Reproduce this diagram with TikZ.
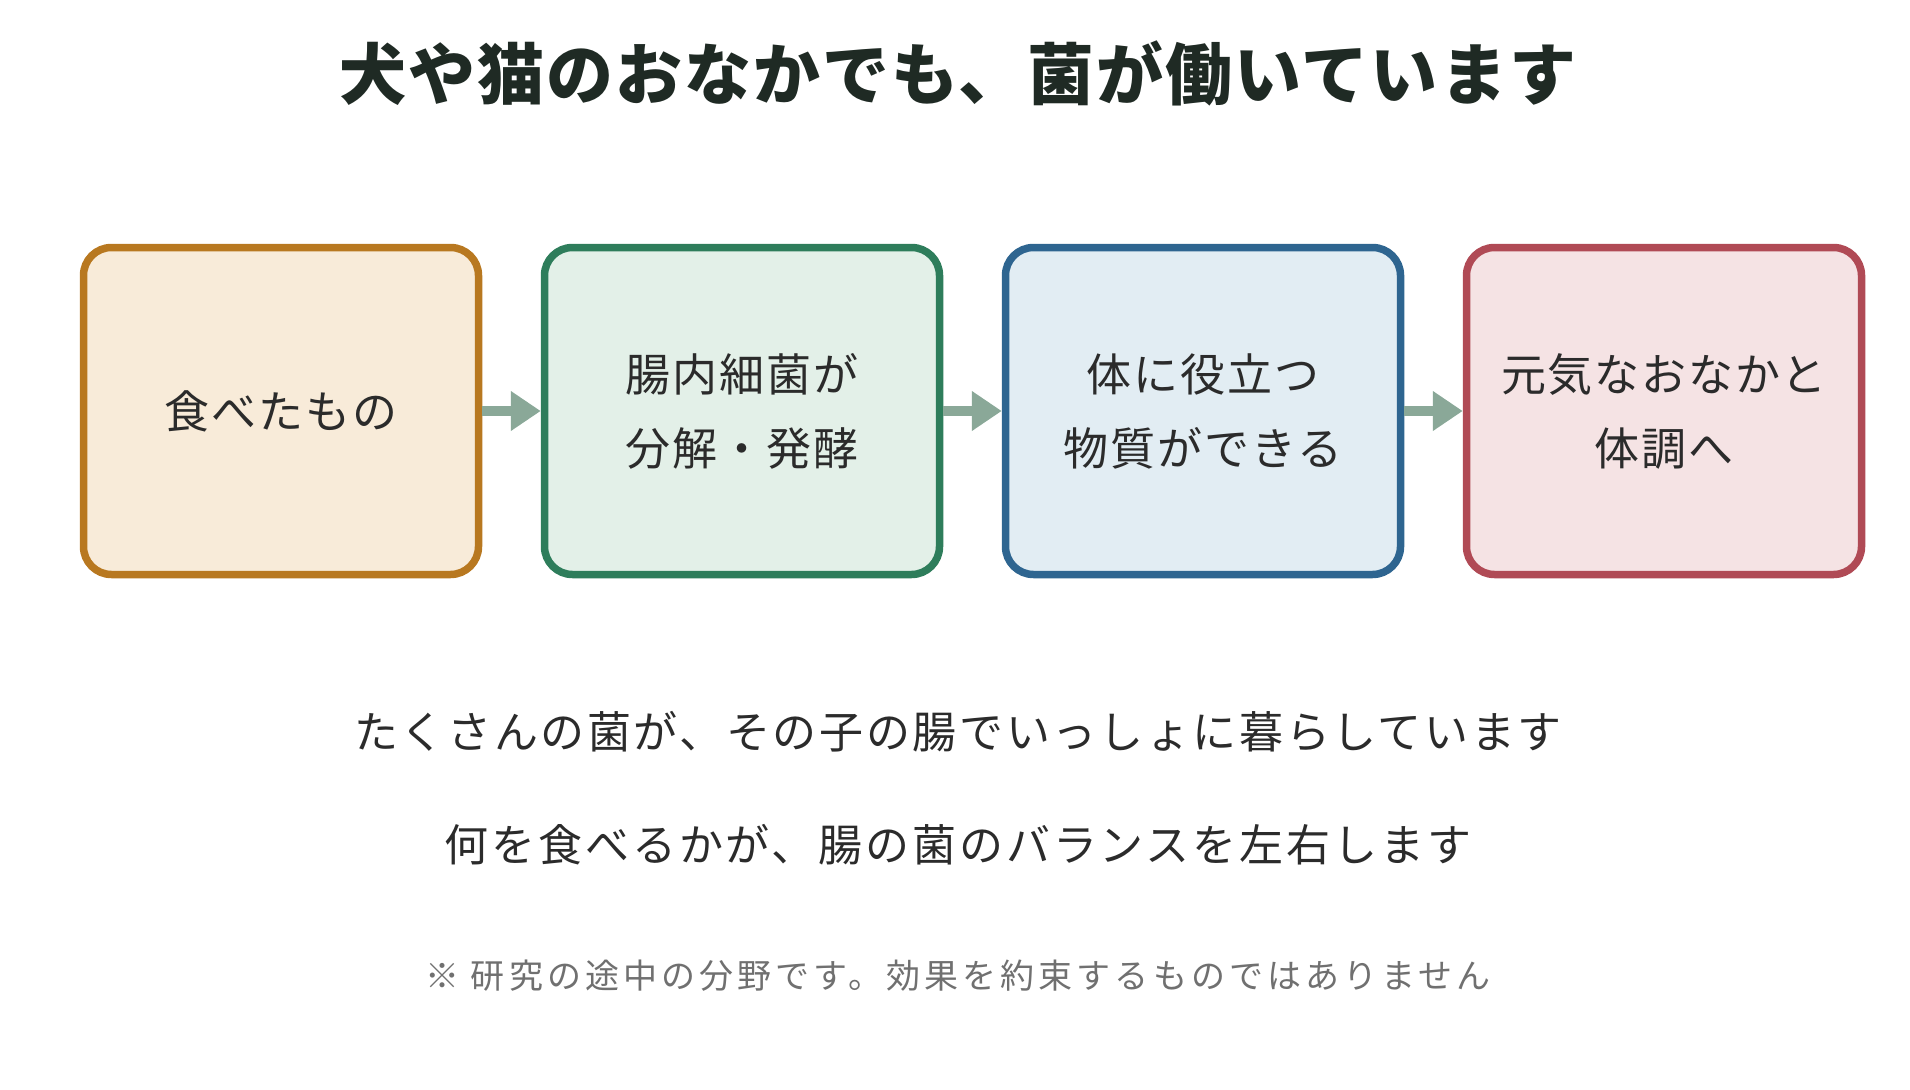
\documentclass[tikz,border=0pt]{standalone}
\usepackage{fontspec}
\setmainfont{Noto Sans CJK JP}
\usetikzlibrary{arrows.meta}
\definecolor{tc}{HTML}{2B2B2B}
\definecolor{ttl}{HTML}{1F2A24}
\definecolor{ar}{HTML}{8AA898}
\tikzset{
 box/.style={draw, line width=7.5pt, rounded corners=28pt, minimum width=395pt, minimum height=327pt, align=center, text=tc, font=\fontsize{45}{74}\selectfont\addfontfeatures{LetterSpace=4}},
 conn/.style={draw=ar, line width=10pt, -{Triangle[length=30pt,width=38pt]}, shorten >=0pt, shorten <=0pt}
}
\begin{document}
\begin{tikzpicture}[x=1pt,y=-1pt]
\useasboundingbox (0,0) rectangle (1910,1089);
\node[text=ttl, font=\fontsize{67}{70}\selectfont\bfseries\addfontfeatures{LetterSpace=3}] (title) at (958,73) {犬や猫のおなかでも、菌が働いています};
\node[box, draw={rgb,255:red,184;green,120;blue,32}, fill={rgb,255:red,248;green,235;blue,217}] (b1) at (281,411) {食べたもの};
\node[box, draw={rgb,255:red,46;green,125;blue,91}, fill={rgb,255:red,227;green,240;blue,232}] (b2) at (742,411) {腸内細菌が\\分解・発酵};
\node[box, draw={rgb,255:red,46;green,101;blue,144}, fill={rgb,255:red,226;green,237;blue,243}] (b3) at (1203,411) {体に役立つ\\物質ができる};
\node[box, draw={rgb,255:red,176;green,74;blue,85}, fill={rgb,255:red,245;green,227;blue,228}] (b4) at (1664,411) {元気なおなかと\\体調へ};
\draw[conn] (b1.east) -- (b2.west);
\draw[conn] (b2.east) -- (b3.west);
\draw[conn] (b3.east) -- (b4.west);
\node[text=tc, font=\fontsize{44}{50}\selectfont\addfontfeatures{LetterSpace=6}] (l1) at (958,732) {たくさんの菌が、その子の腸でいっしょに暮らしています};
\node[text=tc, font=\fontsize{44}{50}\selectfont\addfontfeatures{LetterSpace=6.5}] (l2) at (958,845) {何を食べるかが、腸の菌のバランスを左右します};
\node[text={rgb,255:red,112;green,112;blue,112}, font=\fontsize{34}{40}\selectfont\addfontfeatures{LetterSpace=12}] (l3) at (958,976) {※ 研究の途中の分野です。効果を約束するものではありません};
\end{tikzpicture}
\end{document}
